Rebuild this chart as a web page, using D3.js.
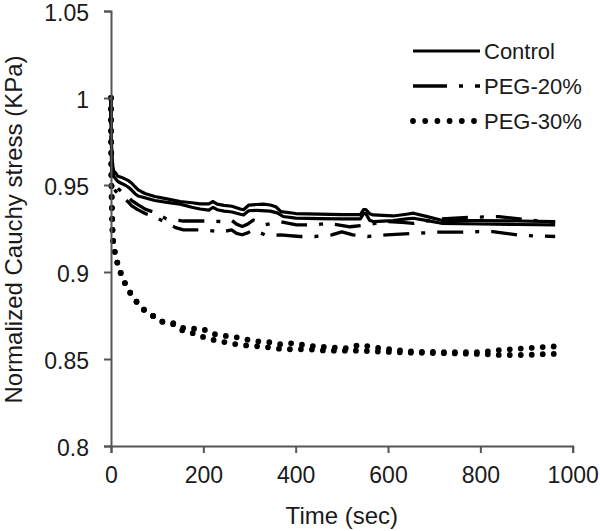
<!DOCTYPE html>
<html>
<head>
<meta charset="utf-8">
<script src="https://cdn.jsdelivr.net/npm/d3@7"></script>
<style>
  html, body { margin: 0; padding: 0; background: #fff; }
  svg { display: block; }
  text { font-family: "Liberation Sans", Arial, sans-serif; fill: #1a1a1a; }
</style>
</head>
<body>
<svg id="chart" width="600" height="531"></svg>
<script>
// ---- data (time in sec, normalized stress) ----
const seriesNames = ["Control", "PEG-20%", "PEG-30%"];
const xTicks = [0, 200, 400, 600, 800, 1000];
const yTicks = [0.8, 0.85, 0.9, 0.95, 1, 1.05];
const yTickLabels = ["0.8", "0.85", "0.9", "0.95", "1", "1.05"];

const controlA = [[0,1.0],[0.5,0.985],[1,0.975],[2,0.966],[3,0.962],[6,0.958],[10,0.957],[15,0.955],[22,0.9545],[30,0.9535],[38,0.9525],[45,0.951],[52,0.949],[59,0.9472],[67,0.946],[75,0.945],[95,0.9434],[121,0.942],[150,0.9405],[175,0.9398],[193,0.9392],[212,0.9392],[221,0.9405],[230,0.939],[245,0.9383],[262,0.9378],[280,0.9362],[287,0.9358],[298,0.9384],[315,0.9388],[330,0.939],[345,0.9385],[357,0.9375],[368,0.9347],[400,0.9336],[450,0.9333],[500,0.933],[540,0.933],[547,0.9358],[552,0.9358],[560,0.9335],[568,0.9328],[611,0.9322],[640,0.9332],[655,0.9338],[685,0.9318],[716,0.9297],[800,0.9295],[880,0.9293],[962,0.929]];
const controlB = [[0,1.0],[0.5,0.98],[1,0.972],[2,0.962],[3,0.958],[6,0.955],[10,0.9535],[15,0.952],[22,0.951],[30,0.95],[38,0.9487],[45,0.947],[52,0.945],[59,0.9437],[75,0.9425],[95,0.9411],[121,0.94],[150,0.939],[175,0.9372],[193,0.9362],[212,0.9356],[221,0.9372],[230,0.9358],[245,0.935],[262,0.9345],[280,0.9332],[287,0.9328],[298,0.9352],[315,0.9354],[345,0.935],[360,0.934],[373,0.9319],[400,0.931],[450,0.9307],[500,0.9305],[540,0.9305],[547,0.9335],[552,0.9335],[560,0.9298],[568,0.929],[611,0.9295],[640,0.9305],[655,0.9309],[685,0.9295],[716,0.928],[800,0.9276],[880,0.9273],[962,0.9271]];
const peg20A = [[0,1.0],[0.5,0.98],[1,0.97],[2,0.96],[3,0.955],[6,0.951],[10,0.9495],[15,0.948],[22,0.9465],[30,0.945],[38,0.943],[45,0.941],[52,0.9398],[59,0.9386],[75,0.936],[95,0.9342],[120,0.9305],[140,0.9298],[157,0.9293],[204,0.9293],[240,0.929],[261,0.9298],[272,0.9275],[284,0.9262],[296,0.9275],[308,0.9298],[333,0.9271],[366,0.929],[385,0.928],[402,0.9271],[442,0.9271],[470,0.928],[495,0.927],[518,0.926],[554,0.9271],[597,0.929],[630,0.9285],[655,0.928],[690,0.9295],[716,0.9305],[780,0.9315],[840,0.9318],[870,0.931],[900,0.93],[930,0.9292],[962,0.9285]];
const peg20B = [[0,1.0],[0.5,0.975],[1,0.965],[2,0.956],[3,0.952],[6,0.948],[10,0.9465],[15,0.945],[22,0.9435],[30,0.942],[38,0.94],[45,0.938],[52,0.9368],[59,0.9357],[75,0.9335],[95,0.9319],[120,0.928],[140,0.9255],[157,0.9242],[204,0.9242],[240,0.9229],[261,0.9242],[272,0.9222],[284,0.9214],[296,0.9225],[308,0.9242],[337,0.921],[366,0.9213],[409,0.9204],[442,0.9204],[478,0.9213],[500,0.9231],[524,0.9213],[556,0.9204],[597,0.9213],[655,0.9222],[708,0.9229],[767,0.9229],[795,0.9232],[827,0.9232],[855,0.9222],[882,0.9213],[914,0.9208],[962,0.9204]];
const peg30A = [[0,1.0],[0.5,0.97],[1,0.95],[2,0.935],[3.5,0.922],[5,0.9166],[8.7,0.9108],[15.8,0.9031],[26.6,0.8955],[37.5,0.8897],[52,0.884],[66.5,0.8792],[88,0.8753],[110,0.8715],[135,0.8706],[157,0.8677],[200,0.8671],[221,0.8644],[247,0.8633],[272,0.8625],[297,0.861],[323,0.86],[344,0.8596],[366,0.8585],[394,0.8591],[424,0.8577],[467,0.8568],[510,0.8562],[539,0.8581],[583,0.8562],[654,0.8542],[727,0.8539],[799,0.8539],[843,0.8552],[900,0.8562],[950,0.8571],[960,0.8572]];
const peg30B = [[0,1.0],[0.5,0.97],[1,0.95],[2,0.935],[3.5,0.922],[5,0.9166],[8.7,0.9108],[15.8,0.9031],[26.6,0.8955],[37.5,0.8897],[52,0.884],[66.5,0.8792],[88,0.8753],[110,0.8715],[135,0.8700],[157,0.866],[178,0.8648],[207,0.8619],[232,0.8604],[258,0.8591],[279,0.8581],[305,0.8575],[330,0.8571],[352,0.8562],[381,0.8556],[424,0.8556],[467,0.8548],[539,0.8548],[583,0.8542],[654,0.8536],[727,0.8533],[799,0.8529],[843,0.8523],[900,0.8523],[944,0.8529],[960,0.8529]];

// ---- layout ----
const svg = d3.select("#chart");
const x = d3.scaleLinear().domain([0, 1000]).range([111, 572.7]);
const y = d3.scaleLinear().domain([0.8, 1.05]).range([446, 11]);
const axisColor = "#555";

const styles = {
  "Control": { dash: null, width: 3.2, cap: "butt", legendDash: null },
  "PEG-20%": { dash: "26,12,4,12", width: 3.3, cap: "butt", legendDash: "34,12,4,12" },
  "PEG-30%": { dash: "0,11", width: 5.8, cap: "round", legendDash: "0,12.2" }
};
const lines = [
  { name: "Control", data: controlA }, { name: "Control", data: controlB },
  { name: "PEG-20%", data: peg20A }, { name: "PEG-20%", data: peg20B },
  { name: "PEG-30%", data: peg30A }, { name: "PEG-30%", data: peg30B }
];

const line = d3.line().x(d => x(d[0])).y(d => y(d[1]));

svg.selectAll("path.series").data(lines).enter().append("path")
  .attr("class", "series")
  .attr("d", d => line(d.data))
  .attr("fill", "none")
  .attr("stroke", "#000")
  .attr("stroke-width", d => styles[d.name].width)
  .attr("stroke-linecap", d => styles[d.name].cap)
  .attr("stroke-linejoin", "round")
  .attr("stroke-dasharray", d => styles[d.name].dash);

// ---- axes ----
const xAxis = d3.axisBottom(x).tickValues(xTicks).tickSize(7).tickSizeOuter(7).tickPadding(14).tickFormat(d3.format("d"));
const yAxis = d3.axisLeft(y).tickValues(yTicks).tickSize(7).tickSizeOuter(7).tickPadding(15)
  .tickFormat((d, i) => yTickLabels[i]);

const gx = svg.append("g").attr("transform", "translate(0,446)").call(xAxis);
const gy = svg.append("g").attr("transform", "translate(111,0)").call(yAxis);
[gx, gy].forEach(g => {
  g.select(".domain").attr("stroke", axisColor).attr("stroke-width", 2);
  g.selectAll(".tick line").attr("stroke", axisColor).attr("stroke-width", 2);
  g.selectAll(".tick text").attr("fill", "#1a1a1a")
    .style("font-family", "'Liberation Sans', Arial, sans-serif").style("font-size", "23px");
});
gy.selectAll(".tick text").attr("dy", "0.42em");

// ---- axis titles ----
svg.append("text").attr("x", (x(0) + x(1000)) / 2).attr("y", 524)
  .attr("text-anchor", "middle").style("font-size", "24px").text("Time (sec)");
svg.append("text").attr("transform", `translate(22,${(y(0.8) + y(1.05)) / 2 + 1}) rotate(-90)`)
  .attr("text-anchor", "middle").style("font-size", "24px").text("Normalized Cauchy stress (KPa)");

// ---- legend ----
const legendY = [51, 86, 121];
const lg = svg.append("g");
seriesNames.forEach((name, i) => {
  const s = styles[name];
  lg.append("line").attr("x1", 413).attr("x2", name === "PEG-30%" ? 477 : 480)
    .attr("y1", legendY[i]).attr("y2", legendY[i])
    .attr("stroke", "#000").attr("stroke-width", s.width)
    .attr("stroke-linecap", s.cap).attr("stroke-dasharray", s.legendDash);
  lg.append("text").attr("x", 484).attr("y", legendY[i] + 8)
    .style("font-size", "22px").text(name);
});
</script>
</body>
</html>
